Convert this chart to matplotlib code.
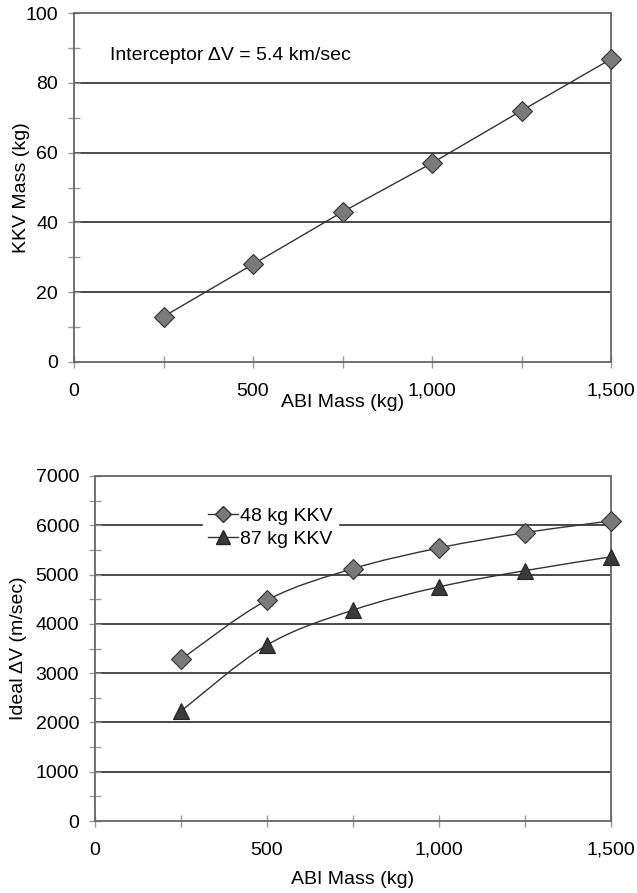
import numpy as np
import matplotlib.pyplot as plt
from matplotlib.path import Path
from matplotlib.patches import PathPatch
from matplotlib.ticker import FuncFormatter, MultipleLocator

plt.rcParams['font.family'] = ['Liberation Sans', 'DejaVu Sans']

# data
abi_mass = [250, 500, 750, 1000, 1250, 1500]
kkv_mass = [13, 28, 43, 57, 72, 86.8]
dv_48kg = [3280, 4480, 5120, 5540, 5850, 6090]
dv_87kg = [2230, 3570, 4280, 4750, 5080, 5360]

W, H = 637, 893
fs = 14
grid_col = '#3a3a3a'
spine_col = '#666666'


def smooth_path(x, y):
    # Catmull-Rom through the points as cubic Bezier segments (Excel style smoothed line)
    x = np.asarray(x, float)
    y = np.asarray(y, float)
    px = np.concatenate([[x[0]], x, [x[-1]]])
    py = np.concatenate([[y[0]], y, [y[-1]]])
    verts = [(x[0], y[0])]
    codes = [Path.MOVETO]
    for i in range(1, len(px) - 2):
        c1 = (px[i] + (px[i + 1] - px[i - 1]) / 6, py[i] + (py[i + 1] - py[i - 1]) / 6)
        c2 = (px[i + 1] - (px[i + 2] - px[i]) / 6, py[i + 1] - (py[i + 2] - py[i]) / 6)
        verts += [c1, c2, (px[i + 1], py[i + 1])]
        codes += [Path.CURVE4] * 3
    return Path(verts, codes)


def style_axes(ax):
    for s in ax.spines.values():
        s.set_color(spine_col)
        s.set_linewidth(1.3)
    ax.tick_params(axis='both', which='both', direction='inout', color='#999999', width=1.0)
    ax.tick_params(axis='x', which='both', length=8, labelsize=fs, pad=11)
    ax.tick_params(axis='y', which='both', length=9, labelsize=fs, pad=7)
    ax.xaxis.set_major_locator(MultipleLocator(500))
    ax.xaxis.set_minor_locator(MultipleLocator(250))
    ax.xaxis.set_major_formatter(FuncFormatter(lambda v, p: f'{int(v):,}'))
    ax.set_xlim(0, 1500)


def px_axes(left, top, right, bottom):
    return [left / W, 1 - bottom / H, (right - left) / W, (bottom - top) / H]


fig = plt.figure(figsize=(W / 100, H / 100), dpi=100)

# top panel: KKV mass vs ABI mass
ax1 = fig.add_axes(px_axes(74, 13, 611, 362))
style_axes(ax1)
ax1.set_ylim(0, 100)
ax1.yaxis.set_major_locator(MultipleLocator(20))
ax1.yaxis.set_minor_locator(MultipleLocator(10))
for g in [20, 40, 60, 80]:
    ax1.axhline(g, color=grid_col, lw=1.3, zorder=1)
ax1.plot(abi_mass, kkv_mass, color='#333333', lw=1.0, marker='D', ms=10,
         mfc='#7a7a7a', mec='#333333', mew=0.8, zorder=3, clip_on=False)
ax1.text(100, 87.7, 'Interceptor ΔV = 5.4 km/sec', fontsize=fs, va='center', ha='left')
ax1.set_xlabel('ABI Mass (kg)', fontsize=fs)
ax1.set_ylabel('KKV Mass (kg)', fontsize=fs, va='center')
ax1.xaxis.set_label_coords(0.5, -0.093)
ax1.yaxis.set_label_coords(-0.097, 0.5)

# bottom panel: ideal delta-V vs ABI mass
ax2 = fig.add_axes(px_axes(95, 476, 611, 821))
style_axes(ax2)
ax2.set_ylim(0, 7000)
ax2.yaxis.set_major_locator(MultipleLocator(1000))
ax2.yaxis.set_minor_locator(MultipleLocator(500))
for g in range(1000, 7000, 1000):
    ax2.axhline(g, color=grid_col, lw=1.3, zorder=1)
for ys in (dv_48kg, dv_87kg):
    ax2.add_patch(PathPatch(smooth_path(abi_mass, ys), fill=False, ec='#333333', lw=1.0, zorder=2))
ax2.plot(abi_mass, dv_48kg, ls='none', marker='D', ms=10, mfc='#7a7a7a',
         mec='#333333', mew=0.8, zorder=3, clip_on=False)
ax2.plot(abi_mass, dv_87kg, ls='none', marker='^', ms=12, mfc='#3a3a3a',
         mec='#222222', mew=0.8, zorder=3, clip_on=False)
l1, = ax2.plot([], [], color='#333333', lw=1.0, marker='D', ms=8, mfc='#7a7a7a', mec='#333333')
l2, = ax2.plot([], [], color='#333333', lw=1.0, marker='^', ms=10, mfc='#3a3a3a', mec='#222222')
leg = ax2.legend([l1, l2], ['48 kg KKV', '87 kg KKV'], loc='center',
                 bbox_to_anchor=(270.5 / W, 1 - 527.5 / H), bbox_transform=fig.transFigure,
                 frameon=True, fancybox=False, framealpha=1, edgecolor='white',
                 fontsize=fs, handlelength=1.55, handletextpad=0.1,
                 borderpad=0.25, borderaxespad=0, labelspacing=0.3)
leg.set_zorder(5)
ax2.set_xlabel('ABI Mass (kg)', fontsize=fs)
ax2.set_ylabel('Ideal ΔV (m/sec)', fontsize=fs, va='center')
ax2.xaxis.set_label_coords(0.5, -0.145)
ax2.yaxis.set_label_coords(-0.149, 0.5)

fig.savefig('out.png', dpi=100)
